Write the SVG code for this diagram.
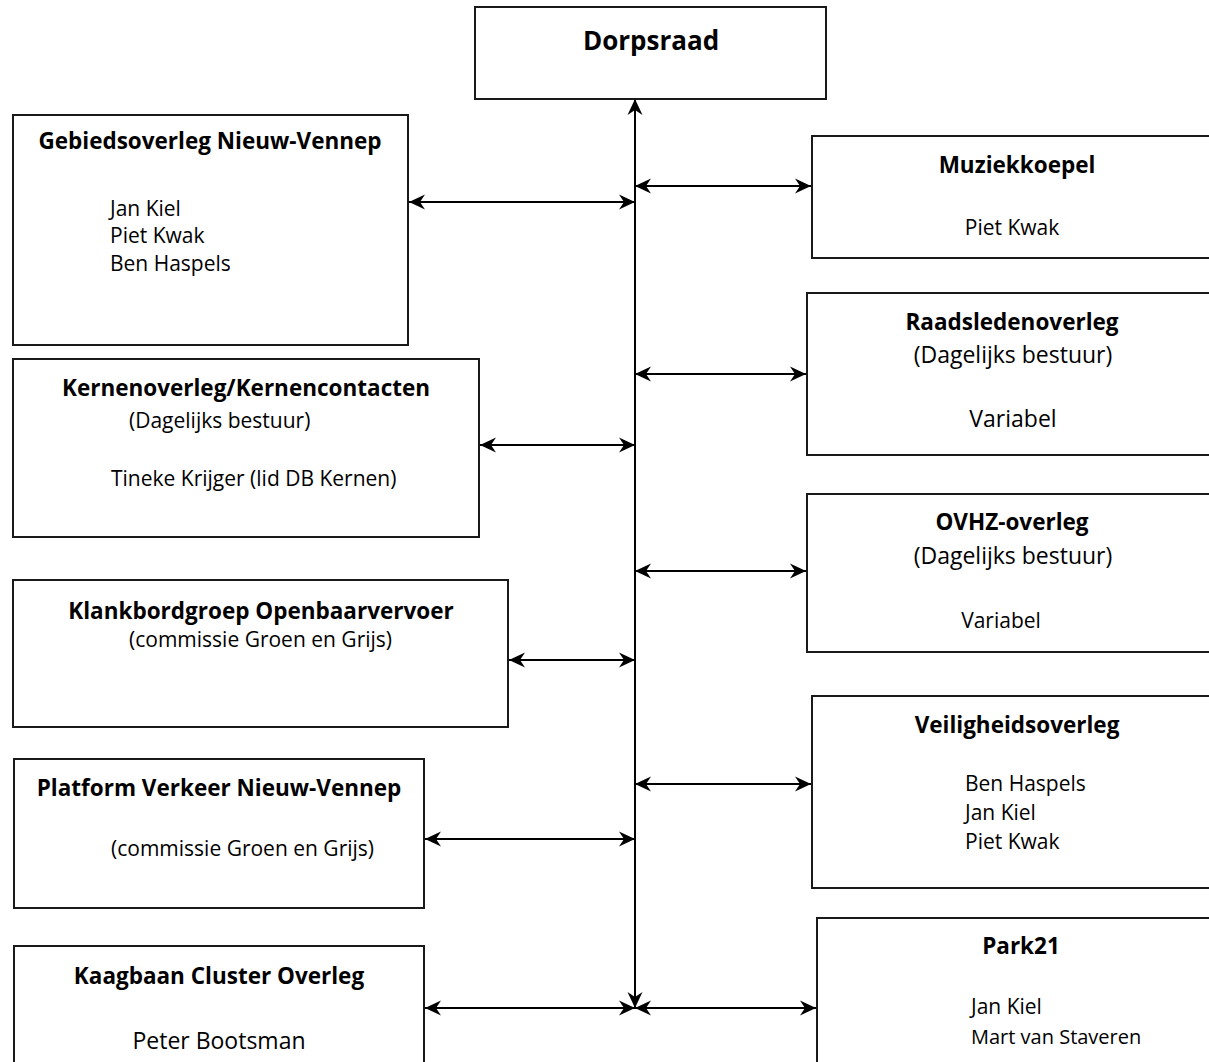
<svg xmlns="http://www.w3.org/2000/svg" width="1209" height="1062" viewBox="0 0 1209 1062">
<style>
.box{fill:#fff;stroke:#1a1a1a;stroke-width:2}
.ln{fill:none;stroke:#000;stroke-width:2;marker-start:url(#ah);marker-end:url(#ah)}
text{font-family:"Open Sans","Liberation Sans",sans-serif;fill:#000}
.t{font-weight:bold;font-size:22.5px;text-anchor:middle}
.r{font-size:21px}
.rl{font-size:23px}
.m{text-anchor:middle}
</style>
<defs>
<marker id="ah" viewBox="-17 -9 18 18" refX="0" refY="0" markerWidth="18" markerHeight="18" markerUnits="userSpaceOnUse" orient="auto-start-reverse">
<path d="M0,0 L-16,-7.5 L-11,0 L-16,7.5 Z" fill="#000"/>
</marker>
</defs>
<rect width="1209" height="1062" fill="#fff"/>
<g id="connectors">
<line class="ln" x1="635" y1="99" x2="635" y2="1008"/>
<line class="ln" x1="409" y1="202" x2="635" y2="202"/>
<line class="ln" x1="635" y1="186" x2="811" y2="186"/>
<line class="ln" x1="635" y1="374" x2="806" y2="374"/>
<line class="ln" x1="480" y1="445" x2="635" y2="445"/>
<line class="ln" x1="635" y1="571" x2="806" y2="571"/>
<line class="ln" x1="509" y1="660" x2="635" y2="660"/>
<line class="ln" x1="635" y1="784" x2="811" y2="784"/>
<line class="ln" x1="425" y1="839" x2="635" y2="839"/>
<line class="ln" x1="425" y1="1008" x2="635" y2="1008"/>
<line class="ln" x1="635" y1="1008" x2="816" y2="1008"/>
</g>
<g id="dorpsraad">
<rect class="box" x="475" y="7" width="351" height="92"/>
<text x="651" y="50" style="font-weight:bold;font-size:26px;text-anchor:middle">Dorpsraad</text>
</g>
<g id="gebiedsoverleg">
<rect class="box" x="13" y="115" width="395" height="230"/>
<text class="t" x="210" y="149">Gebiedsoverleg Nieuw-Vennep</text>
<text class="r" x="110" y="216">Jan Kiel</text>
<text class="r" x="110" y="243">Piet Kwak</text>
<text class="r" x="110" y="271">Ben Haspels</text>
</g>
<g id="kernenoverleg">
<rect class="box" x="13" y="359" width="466" height="178"/>
<text class="t" x="246" y="396">Kernenoverleg/Kernencontacten</text>
<text class="r" x="129" y="428">(Dagelijks bestuur)</text>
<text class="r" x="111" y="486">Tineke Krijger (lid DB Kernen)</text>
</g>
<g id="klankbordgroep">
<rect class="box" x="13" y="580" width="495" height="147"/>
<text class="t" x="261" y="619">Klankbordgroep Openbaarvervoer</text>
<text class="r" x="129" y="647">(commissie Groen en Grijs)</text>
</g>
<g id="platform">
<rect class="box" x="14" y="759" width="410" height="149"/>
<text class="t" x="219" y="796">Platform Verkeer Nieuw-Vennep</text>
<text class="r" x="111" y="856">(commissie Groen en Grijs)</text>
</g>
<g id="kaagbaan">
<rect class="box" x="14" y="946" width="410" height="130"/>
<text class="t" x="219" y="984">Kaagbaan Cluster Overleg</text>
<text class="rl m" x="219" y="1049">Peter Bootsman</text>
</g>
<g id="muziekkoepel">
<rect class="box" x="812" y="136" width="410" height="122"/>
<text class="t" x="1017" y="173">Muziekkoepel</text>
<text class="r m" x="1012" y="235">Piet Kwak</text>
</g>
<g id="raadsledenoverleg">
<rect class="box" x="807" y="293" width="415" height="162"/>
<text class="t" x="1012" y="330">Raadsledenoverleg</text>
<text class="rl m" x="1013" y="363">(Dagelijks bestuur)</text>
<text class="rl m" x="1013" y="427">Variabel</text>
</g>
<g id="ovhz-overleg">
<rect class="box" x="807" y="494" width="415" height="158"/>
<text class="t" x="1012" y="530">OVHZ-overleg</text>
<text class="rl m" x="1013" y="564">(Dagelijks bestuur)</text>
<text class="r m" x="1001" y="628">Variabel</text>
</g>
<g id="veiligheidsoverleg">
<rect class="box" x="812" y="696" width="410" height="192"/>
<text class="t" x="1017" y="733">Veiligheidsoverleg</text>
<text class="r" x="965" y="791">Ben Haspels</text>
<text class="r" x="965" y="820">Jan Kiel</text>
<text class="r" x="965" y="849">Piet Kwak</text>
</g>
<g id="park21">
<rect class="box" x="817" y="918" width="405" height="160"/>
<text class="t" x="1021" y="954">Park21</text>
<text class="r" x="971" y="1014">Jan Kiel</text>
<text class="r" x="971" y="1044" style="font-size:20px">Mart van Staveren</text>
</g>
</svg>
